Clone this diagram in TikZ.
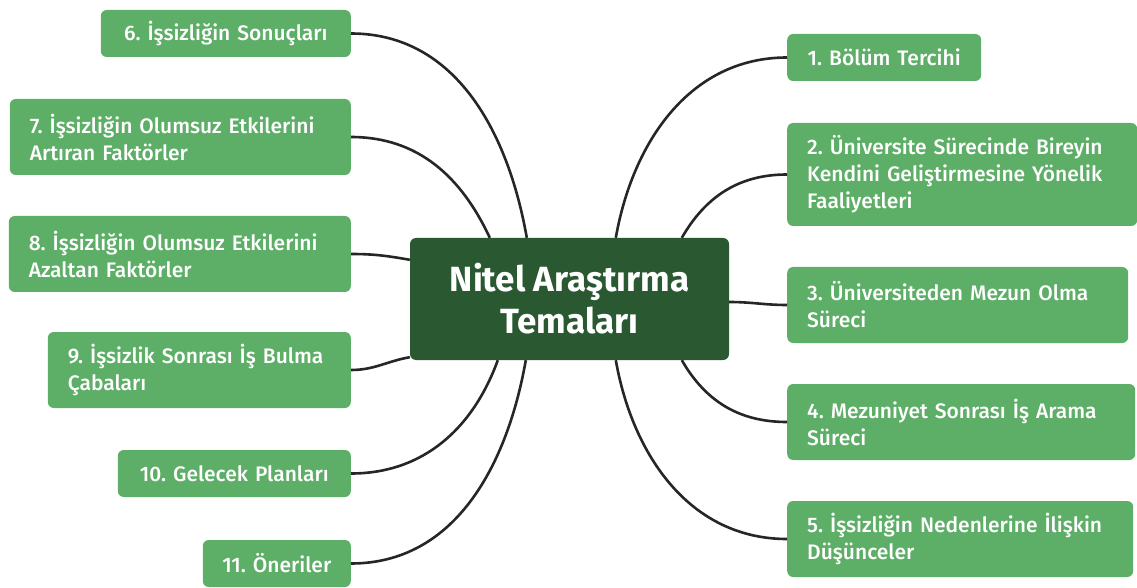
\documentclass[tikz,border=0pt]{standalone}
\usepackage{fontspec}
\setmainfont{Fira Sans}[Numbers=Proportional]
\newfontfamily\medium{Fira Sans Medium}[Numbers=Proportional]
\definecolor{leaf}{HTML}{5DAE66}
\definecolor{root}{HTML}{2A5931}
\definecolor{wire}{HTML}{262626}
\frenchspacing
\hyphenpenalty=10000
\begin{document}
\begin{tikzpicture}[x=1pt, y=1pt, main/.style = {fill=leaf, rounded corners=6pt, text=white, font=\medium\fontsize{21}{27}\selectfont, align=left, inner xsep=20pt, inner ysep=0pt}, one/.style = {minimum height=47pt, align=center}, two/.style = {minimum height=76pt}, three/.style = {minimum height=103pt}, link/.style = {draw=wire, line width=2.6pt}]
    \useasboundingbox (0,0) rectangle (1137,587);
    \node[fill=root, rounded corners=6pt, minimum width=319pt, minimum height=122pt, text=white, align=center, font=\bfseries\fontsize{35}{42}\selectfont] (0) at (569.5,288) {Nitel Araştırma\\Temaları};

    % right side
    \node[main, one, anchor=west, text width=154pt] (1) at (787,529.5) {1. Bölüm Tercihi};
    \node[main, three, anchor=west, text width=310pt] (2) at (787,412.5) {2. Üniversite Sürecinde Bireyin\\Kendini Geliştirmesine Yönelik\\Faaliyetleri};
    \node[main, two, anchor=west, text width=301pt] (3) at (787,282) {3. Üniversiteden Mezun Olma\\Süreci};
    \node[main, two, anchor=west, text width=308pt] (4) at (787,165) {4. Mezuniyet Sonrası İş Arama\\Süreci};
    \node[main, two, anchor=west, text width=306pt] (5) at (787,48) {5. İşsizliğin Nedenlerine İlişkin\\Düşünceler};

    % left side
    \node[main, one, anchor=east, text width=210pt] (6) at (351,553.5) {6. İşsizliğin Sonuçları};
    \node[main, two, anchor=east, text width=301pt] (7) at (351,450) {7. İşsizliğin Olumsuz Etkilerini\\Artıran Faktörler};
    \node[main, two, anchor=east, text width=302pt] (8) at (351,333) {8. İşsizliğin Olumsuz Etkilerini\\Azaltan Faktörler};
    \node[main, two, anchor=east, text width=263pt] (9) at (351,217) {9. İşsizlik Sonrası İş Bulma\\Çabaları};
    \node[main, one, anchor=east, text width=193pt] (10) at (351,113.5) {10. Gelecek Planları};
    \node[main, one, anchor=east, inner xsep=6pt, text width=136pt] (11) at (351,23.5) {11. Öneriler};

    \draw[link] ([xshift=206pt]0.north west) to [out=80, in=180] (1.west);
    \draw[link] ([xshift=272pt]0.north west) to [out=60, in=180] (2.west);
    \draw[link] ([yshift=-3pt]0.east) to [out=0, in=180] (3.west);
    \draw[link] ([xshift=272pt]0.south west) to [out=-60, in=180] (4.west);
    \draw[link] ([xshift=206pt]0.south west) to [out=-80, in=180] (5.west);

    \draw[link] ([xshift=117pt]0.north west) to [out=100, in=0] (6.east);
    \draw[link] ([xshift=80pt]0.north west) to [out=115, in=0] (7.east);
    \draw[link] ([yshift=-22pt]0.north west) to [out=170, in=0] (8.east);
    \draw[link] ([yshift=3pt]0.south west) to [out=190, in=0] (9.east);
    \draw[link] ([xshift=88pt]0.south west) to [out=-110, in=0] (10.east);
    \draw[link] ([xshift=116pt]0.south west) to [out=-100, in=0] (11.east);
    % \draw[link] (0) -- (3);
\end{tikzpicture}
\end{document}
